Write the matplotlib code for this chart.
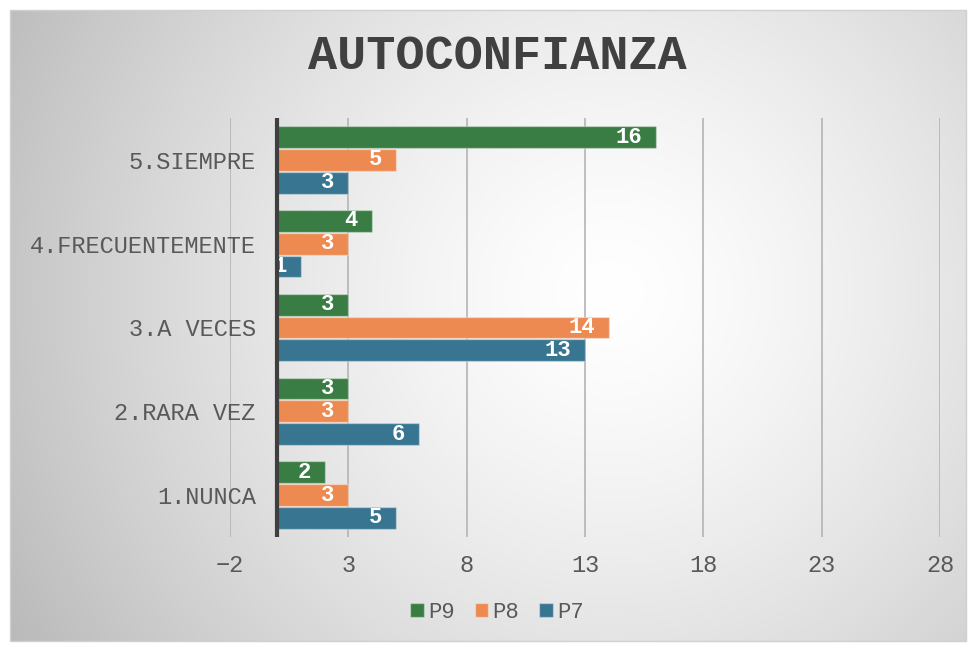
import matplotlib.pyplot as plt
import numpy as np
from matplotlib.patches import Rectangle

categories = ["1.NUNCA", "2.RARA VEZ", "3.A VECES", "4.FRECUENTEMENTE", "5.SIEMPRE"]
p7 = [5, 6, 13, 1, 3]
p8 = [3, 3, 14, 3, 5]
p9 = [2, 3, 3, 4, 16]
xticks = [-2, 3, 8, 13, 18, 23, 28]

plt.rcParams['font.family'] = ['Liberation Mono', 'DejaVu Sans Mono']

fig = plt.figure(figsize=(9.71, 6.47), dpi=100)

# background: radial gray gradient inside a bordered box
bg = fig.add_axes([0, 0, 1, 1])
bg.set_xlim(0, 971)
bg.set_ylim(647, 0)
bg.axis('off')
yy, xx = np.mgrid[0:647, 0:971]
r = np.sqrt((xx - 610) ** 2 + (yy - 290) ** 2) / 700
g = 1 - 0.27 * np.clip(r, 0, 1) ** 1.4
img = np.dstack([g, g, g])
bg.imshow(img, extent=[10, 966, 641, 10], zorder=0, aspect='auto')
bg.add_patch(Rectangle((10, 10), 956, 631, fill=False, ec='#d0d0d0', lw=1, zorder=1))

ax = fig.add_axes([230 / 971, 1 - 537 / 647, 710 / 971, 419 / 647])
ax.patch.set_alpha(0)

y = np.arange(len(categories))
h = 0.26
off = 0.273
colors = {'P9': '#3a7d44', 'P8': '#ec8a52', 'P7': '#377591'}
series = [('P9', p9, off), ('P8', p8, 0), ('P7', p7, -off)]
for name, vals, o in series:
    bars = ax.barh(y + o, vals, height=h, color=colors[name], label=name,
                   edgecolor=(1, 1, 1, 0.35), linewidth=1, zorder=3)
    for b, v in zip(bars, vals):
        ax.annotate(str(v), (v, b.get_y() + h / 2), xytext=(-10, 0),
                    textcoords='offset points', ha='right', va='center',
                    color='white', fontsize=16, fontweight='bold', zorder=4)

ax.set_xlim(-2, 28)
ax.set_ylim(-0.5, 4.5)
ax.set_xticks(xticks)
ax.set_yticks(y)
ax.set_yticklabels(categories)
ax.grid(axis='x', color='#b4b4b4', lw=1.2, zorder=1)
ax.axvline(0, color='#3f3f3f', lw=3, zorder=5)
for s in ax.spines.values():
    s.set_visible(False)
ax.tick_params(length=0, labelsize=17, colors='#595959')
ax.tick_params(axis='x', pad=12)
ax.tick_params(axis='y', pad=-18.5)

fig.text(0.512, 0.912, 'AUTOCONFIANZA', ha='center', va='center',
         fontsize=35, fontweight='bold', color='#404040')

handles, labels = ax.get_legend_handles_labels()
fig.legend(handles, labels, loc='center', bbox_to_anchor=(0.512, 0.054), ncol=3,
           frameon=False, fontsize=16, handlelength=0.6, handleheight=0.6,
           handletextpad=0.2, columnspacing=0.9, labelcolor='#595959')

plt.savefig('out.png', dpi=100)
